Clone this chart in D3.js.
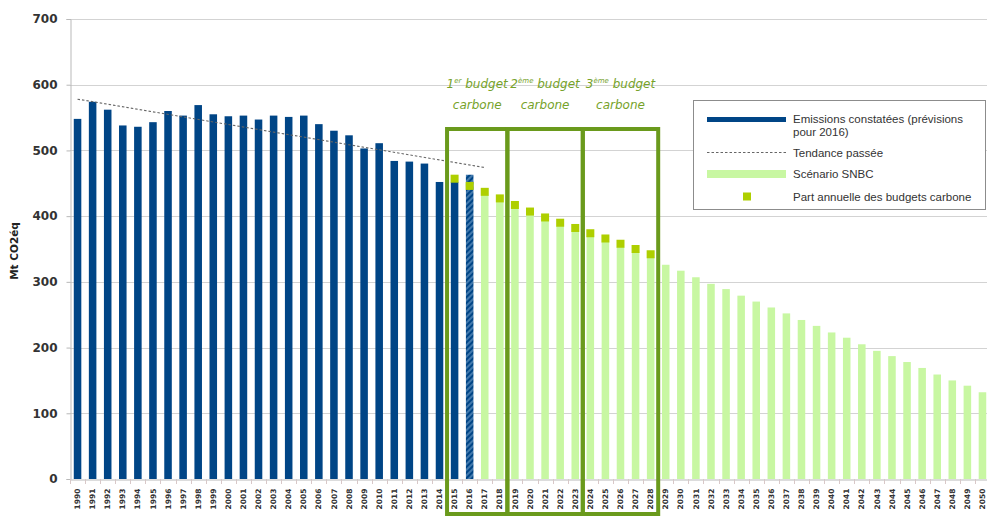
<!DOCTYPE html>
<meta charset="utf-8">
<style>
    body { margin: 0; background: #fff; }
    svg { display: block; }
    .ytick text { font: bold 12px "DejaVu Sans", sans-serif; fill: #333; }
    .xtick text { font: bold 7.5px "DejaVu Sans", sans-serif; fill: #333; }
    .legend text { font: 11.5px "Liberation Sans", Arial, sans-serif; fill: #333; }
    .budget text { font: italic 12px "DejaVu Sans", sans-serif; fill: #76a22a; }
</style>
<svg width="987" height="516"></svg>
<script src="https://cdnjs.cloudflare.com/ajax/libs/d3/7.8.5/d3.min.js"></script>
<script>

    // emissions observed (2016 = forecast)
    var emissionYears = [1990, 1991, 1992, 1993, 1994, 1995, 1996, 1997, 1998, 1999,
        2000, 2001, 2002, 2003, 2004, 2005, 2006, 2007, 2008, 2009,
        2010, 2011, 2012, 2013, 2014, 2015, 2016];
    var emissions = [548, 574, 562, 538, 536, 543, 560, 553, 569, 555,
        552, 553, 547, 553, 551, 553, 540, 530, 523, 503,
        511, 484, 483, 480, 452, 452, 463];
    var forecastYear = 2016;

    // SNBC scenario
    var snbcYears = [2017, 2018, 2019, 2020, 2021, 2022, 2023, 2024, 2025, 2026,
        2027, 2028, 2029, 2030, 2031, 2032, 2033, 2034, 2035, 2036,
        2037, 2038, 2039, 2040, 2041, 2042, 2043, 2044, 2045, 2046,
        2047, 2048, 2049, 2050];
    var snbc = [432, 422, 412, 402, 393, 385, 377, 369, 361, 353,
        345, 337, 326, 317, 307, 297, 289, 279, 270, 261,
        252, 242, 233, 223, 215, 205, 195, 187, 178, 169,
        159, 150, 142, 132];

    // annual share of the carbon budgets
    var budgetYears = [2015, 2016, 2017, 2018, 2019, 2020, 2021, 2022, 2023, 2024, 2025, 2026, 2027, 2028];
    var budgetShares = [457, 446, 437, 427, 417, 407, 398, 390, 382, 374, 366, 358, 350, 342];

    // past trend (dashed)
    var trendYears = [1990, 2017];
    var trendValues = [578, 474];

    // budget periods
    var budgetNum = ["1", "2", "3"];
    var budgetSup = ["er", "ème", "ème"];
    var budgetStart = [2015, 2019, 2024];
    var budgetEnd = [2018, 2023, 2028];

    var yTicks = [0, 100, 200, 300, 400, 500, 600, 700];

    var svg = d3.select("svg"),
        width = +svg.attr("width"),
        height = +svg.attr("height");

    var mLeft = 70, mTop = 19, mBottom = 479;

    var years = emissionYears.concat(snbcYears);

    var x = d3.scaleBand()
        .domain(years)
        .range([mLeft, 990])
        .paddingInner(0.5)
        .paddingOuter(0.25);

    var y = d3.scaleLinear()
        .domain([0, 700])
        .range([mBottom, mTop]);

    var gap = x.step() * x.paddingInner() / 2;
    function cx(yr) { return x(yr) + x.bandwidth() / 2; }

    // hatch pattern for forecast bar
    var pat = svg.append("defs").append("pattern")
        .attr("id", "hatch")
        .attr("patternUnits", "userSpaceOnUse")
        .attr("width", 4).attr("height", 4)
        .attr("patternTransform", "rotate(-45)");
    pat.append("rect").attr("width", 4).attr("height", 4).attr("fill", "#004586");
    pat.append("line").attr("x1", 0).attr("y1", 2).attr("x2", 4).attr("y2", 2)
        .attr("stroke", "#6e9cc8").attr("stroke-width", 1.2);

    // grid
    svg.append("g")
        .selectAll("line")
        .data(yTicks.slice(1))
        .enter()
        .append("line")
        .attr("x1", mLeft).attr("x2", width)
        .attr("y1", function (d) { return Math.round(y(d)) + 0.5; })
        .attr("y2", function (d) { return Math.round(y(d)) + 0.5; })
        .attr("stroke", "#d3d3d3");

    // axes
    var yAxis = svg.append("g")
        .attr("class", "ytick")
        .attr("transform", "translate(" + (mLeft + 0.5) + ",0)")
        .call(d3.axisLeft(y).tickValues(yTicks).tickSize(4).tickPadding(9));
    yAxis.select(".domain").attr("stroke", "#b9b9b9");
    yAxis.selectAll(".tick line").attr("stroke", "#b9b9b9");

    var xAxis = svg.append("g")
        .attr("class", "xtick")
        .attr("transform", "translate(0," + (mBottom + 0.5) + ")")
        .call(d3.axisBottom(x).tickSize(0).tickPadding(0));
    xAxis.select(".domain").attr("stroke", "#b9b9b9");
    xAxis.selectAll(".tick text")
        .attr("transform", "rotate(-90)")
        .attr("text-anchor", "end")
        .attr("dy", "0.35em")
        .attr("x", -9)
        .attr("y", 0);

    // ticks between categories
    svg.append("g")
        .selectAll("line")
        .data(years)
        .enter()
        .append("line")
        .attr("x1", function (d) { return Math.round(x(d) - gap) + 0.5; })
        .attr("x2", function (d) { return Math.round(x(d) - gap) + 0.5; })
        .attr("y1", mBottom).attr("y2", mBottom + 5)
        .attr("stroke", "#d8c8c8");

    svg.append("text")
        .attr("transform", "translate(18," + 251 + ") rotate(-90)")
        .attr("text-anchor", "middle")
        .style("font", "bold 10.5px 'DejaVu Sans', sans-serif")
        .style("fill", "#222")
        .text("Mt CO2éq");

    // bars: observed
    svg.append("g")
        .selectAll("rect")
        .data(emissionYears)
        .enter()
        .append("rect")
        .attr("x", function (d) { return x(d); })
        .attr("width", x.bandwidth())
        .attr("y", function (d, i) { return y(emissions[i]); })
        .attr("height", function (d, i) { return mBottom - y(emissions[i]); })
        .attr("fill", function (d) { return d == forecastYear ? "url(#hatch)" : "#004586"; });

    // bars: SNBC
    svg.append("g")
        .selectAll("rect")
        .data(snbcYears)
        .enter()
        .append("rect")
        .attr("x", function (d) { return x(d); })
        .attr("width", x.bandwidth())
        .attr("y", function (d, i) { return y(snbc[i]); })
        .attr("height", function (d, i) { return mBottom - y(snbc[i]); })
        .attr("fill", "#c8f7a2");

    // trend line
    var line = d3.line()
        .x(function (d, i) { return cx(trendYears[i]); })
        .y(function (d) { return y(d); });
    svg.append("path")
        .datum(trendValues)
        .attr("d", line)
        .attr("fill", "none")
        .attr("stroke", "#666")
        .attr("stroke-width", 1.1)
        .attr("stroke-dasharray", "2.5,2");

    // budget squares
    var sq = 8;
    svg.append("g")
        .selectAll("rect")
        .data(budgetYears)
        .enter()
        .append("rect")
        .attr("x", function (d) { return cx(d) - sq / 2; })
        .attr("y", function (d, i) { return y(budgetShares[i]) - sq / 2; })
        .attr("width", sq).attr("height", sq)
        .attr("fill", "#aecf00");

    // budget boxes
    var boxTop = 129, boxBottom = 514;
    var bg = svg.append("g").attr("class", "budget");
    budgetStart.forEach(function (s, i) {
        var x0 = x(s) - gap, x1 = x(budgetEnd[i]) + x.bandwidth() + gap;
        bg.append("rect")
            .attr("x", x0).attr("y", boxTop)
            .attr("width", x1 - x0).attr("height", boxBottom - boxTop)
            .attr("fill", "none")
            .attr("stroke", "#6a9a1c")
            .attr("stroke-width", 4);
        var mid = (x0 + x1) / 2;
        var t = bg.append("text").attr("x", mid).attr("y", 88).attr("text-anchor", "middle");
        t.append("tspan").text(budgetNum[i]);
        t.append("tspan").attr("dy", -5).style("font-size", "7px").text(budgetSup[i]);
        t.append("tspan").attr("dy", 5).text(" budget");
        bg.append("text").attr("x", mid).attr("y", 109).attr("text-anchor", "middle").text("carbone");
    });

    // legend
    var lg = svg.append("g").attr("class", "legend");
    lg.append("rect")
        .attr("x", 693.5).attr("y", 100.5)
        .attr("width", 292).attr("height", 109)
        .attr("fill", "#fff").attr("stroke", "#8c8c8c");
    lg.append("rect").attr("x", 707).attr("y", 117).attr("width", 79).attr("height", 5).attr("fill", "#004586");
    lg.append("text").attr("x", 793).attr("y", 123).text("Emissions constatées (prévisions");
    lg.append("text").attr("x", 793).attr("y", 136).text("pour 2016)");
    lg.append("line").attr("x1", 707).attr("x2", 786).attr("y1", 152.5).attr("y2", 152.5)
        .attr("stroke", "#666").attr("stroke-dasharray", "2.5,2");
    lg.append("text").attr("x", 793).attr("y", 157).text("Tendance passée");
    lg.append("rect").attr("x", 707).attr("y", 170).attr("width", 79).attr("height", 8).attr("fill", "#c8f7a2");
    lg.append("text").attr("x", 793).attr("y", 178).text("Scénario SNBC");
    lg.append("rect").attr("x", 743).attr("y", 192.5).attr("width", 8).attr("height", 8).attr("fill", "#aecf00");
    lg.append("text").attr("x", 793).attr("y", 200.5).text("Part annuelle des budgets carbone");

</script>
